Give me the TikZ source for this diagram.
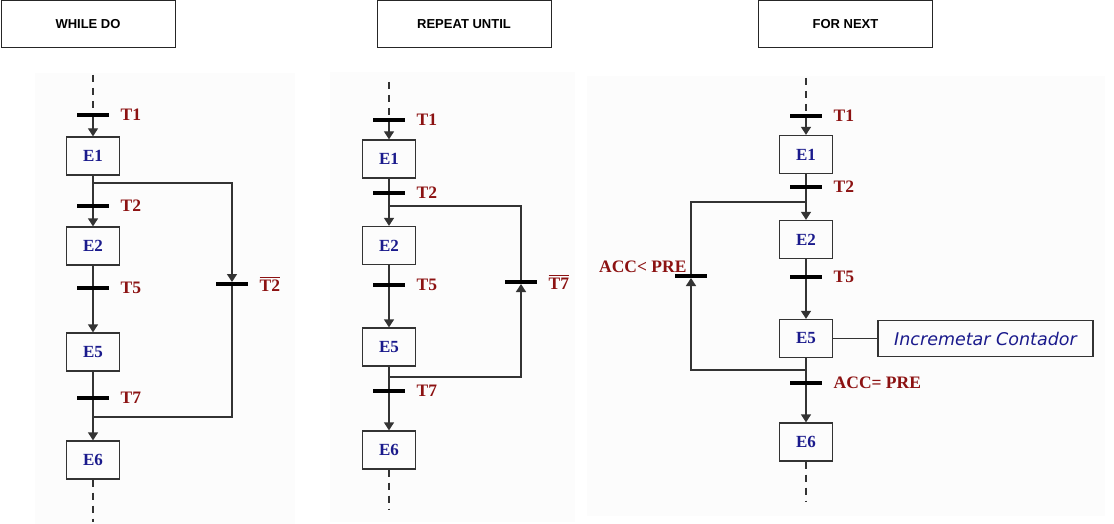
\documentclass[tikz,border=0pt]{standalone}
\usepackage{fontspec}
\setmainfont{Liberation Serif}
\setsansfont{Liberation Sans}
\newfontfamily\contfont{DejaVu Sans}
\usepackage{amsmath}
\usetikzlibrary{arrows.meta}
\definecolor{azuletapa}{RGB}{26,26,140}
\definecolor{vermtrans}{RGB}{140,18,18}
\colorlet{linha}{black!80}

\tikzset{
  titulo/.style={draw=black!85, line width=1pt, minimum width=174pt, minimum height=47pt,
    inner sep=0pt, font=\sffamily\bfseries\fontsize{13}{15}\selectfont},
  etapa/.style={draw=linha, line width=1.3pt, minimum width=53pt, minimum height=38pt,
    inner sep=0pt, text=azuletapa, font=\bfseries\fontsize{17}{19}\selectfont},
  trans/.style={fill=black, minimum width=32pt, minimum height=3.6pt, inner sep=0pt},
  rotulo/.style={text=vermtrans, font=\bfseries\fontsize{17.5}{19}\selectfont},
  rotdir/.style={rotulo, xshift=8pt},
  liga/.style={draw=linha, line width=1.3pt},
  seta/.style={liga, -{Triangle[width=10pt,length=8pt]}},
  tracejado/.style={dash pattern=on 7pt off 6pt},
  fundo/.style={fill=black!1.2}
}

\begin{document}
\begin{tikzpicture}[x=1pt,y=-1pt]
            \useasboundingbox (0,0) rectangle (1114,524);
            \fill[fundo] (35,73) rectangle (295,524);
            \fill[fundo] (330,72) rectangle (575,522);
            \fill[fundo] (587,76) rectangle (1105,516);

            \node[titulo] (h-while) at (88,24.5) {WHILE DO};
            \node[titulo] (h-repeat) at (464,24.5) {REPEAT UNTIL};
            \node[titulo] (h-for) at (845.5,24.5) {FOR NEXT};

            % while do
            \foreach \n/\y in {1/156,2/246,5/352,6/460} {
                \node[etapa] (w-e\n) at (93,\y) {E\n};
            }
            \foreach \n/\y in {1/115,2/206,5/288,7/398} {
                \node[trans,label={[rotdir]right:T\n}] (w-t\n) at (93,\y) {};
            }
            \node[trans,label={[rotdir]right:{$\overline{\mbox{T2}}$}}] (w-tb) at (232,284) {};
            \coordinate (w-ini) at (93,75);
            \coordinate (w-fim) at (93,522);
            \coordinate (w-s) at (93,183);
            \coordinate (w-j) at (93,417);

            \draw[liga,tracejado] (w-ini) -- (w-t1);
            \foreach \a/\b in {t1/e1,t2/e2,t5/e5,t7/e6} {
                \draw[seta] (w-\a) -- (w-\b);
            }
            \foreach \a/\b in {e1/t2,e2/t5,e5/t7} {
                \draw[liga] (w-\a) -- (w-\b);
            }
            \draw[liga,tracejado] (w-e6) -- (w-fim);
            \draw[seta] (w-s) -| (w-tb);
            \draw[liga] (w-tb) |- (w-j);

            % repeat until
            \foreach \n/\y in {1/159,2/245.5,5/347,6/450} {
                \node[etapa] (r-e\n) at (389,\y) {E\n};
            }
            \foreach \n/\y in {1/120,2/193,5/285,7/391} {
                \node[trans,label={[rotdir]right:T\n}] (r-t\n) at (389,\y) {};
            }
            \node[trans,label={[rotdir]right:{$\overline{\mbox{T7}}$}}] (r-tb) at (521,282) {};
            \coordinate (r-ini) at (389,82);
            \coordinate (r-fim) at (389,510);
            \coordinate (r-s) at (389,206);
            \coordinate (r-j) at (389,377);

            \draw[liga,tracejado] (r-ini) -- (r-t1);
            \foreach \a/\b in {t1/e1,t2/e2,t5/e5,t7/e6} {
                \draw[seta] (r-\a) -- (r-\b);
            }
            \foreach \a/\b in {e1/t2,e2/t5,e5/t7} {
                \draw[liga] (r-\a) -- (r-\b);
            }
            \draw[liga,tracejado] (r-e6) -- (r-fim);
            \draw[seta] (r-j) -| (r-tb);
            \draw[liga] (r-tb) |- (r-s);

            % for next
            \foreach \n/\y in {1/154.5,2/239.5,5/338.5,6/442} {
                \node[etapa] (f-e\n) at (806,\y) {E\n};
            }
            \foreach \n/\y in {1/116,2/187,5/277} {
                \node[trans,label={[rotdir]right:T\n}] (f-t\n) at (806,\y) {};
            }
            \node[trans,label={[rotdir]right:ACC= PRE}] (f-t7) at (806,383) {};
            \node[trans] (f-tb) at (691,276) {};
            \node[rotulo,anchor=east] (f-lacc) at (690,267) {ACC< PRE};
            \node[draw=linha, line width=1.3pt, minimum width=215pt, minimum height=36.5pt,
                text=azuletapa, font=\contfont\itshape\fontsize{17.5}{19}\selectfont]
                (f-cont) at (985.5,338.5) {Incremetar Contador};
            \coordinate (f-ini) at (806,78);
            \coordinate (f-fim) at (806,502);
            \coordinate (f-s) at (806,202);
            \coordinate (f-j) at (806,370);

            \draw[liga,tracejado] (f-ini) -- (f-t1);
            \foreach \a/\b in {t1/e1,t2/e2,t5/e5,t7/e6} {
                \draw[seta] (f-\a) -- (f-\b);
            }
            \foreach \a/\b in {e1/t2,e2/t5,e5/t7} {
                \draw[liga] (f-\a) -- (f-\b);
            }
            \draw[liga,tracejado] (f-e6) -- (f-fim);
            \draw[liga] (f-e5) -- (f-cont);
            \draw[seta] (f-j) -| (f-tb);
            \draw[liga] (f-tb) |- (f-s);
\end{tikzpicture}
\end{document}
